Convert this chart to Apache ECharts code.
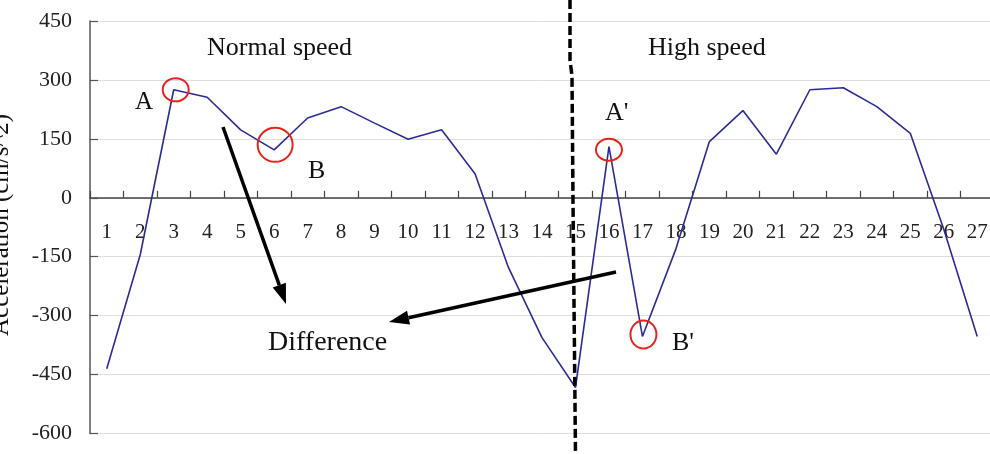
<!DOCTYPE html>
<html>
<head>
<meta charset="utf-8">
<script src="https://cdn.jsdelivr.net/npm/echarts@6/dist/echarts.min.js"></script>
<style>
  html, body { margin: 0; padding: 0; background: #fff; }
  #chart { width: 990px; height: 454px; }
</style>
</head>
<body>
<div id="chart"></div>
<script>
  // sample number 1..27
  var categories = ['1', '2', '3', '4', '5', '6', '7', '8', '9', '10', '11', '12', '13', '14',
    '15', '16', '17', '18', '19', '20', '21', '22', '23', '24', '25', '26', '27']
  // acceleration (cm/s^2)
  var accel = [-435, -145, 275, 256, 173, 122, 203, 232, 190, 149, 173, 61, -178, -356,
    -483, 130, -353, -130, 143, 222, 111, 275, 280, 232, 164, -80, -353]
  var yTicks = [-600, -450, -300, -150, 0, 150, 300, 450]

  // red marks around A, B, A', B' (index into accel)
  var marked = [
    { idx: 2, dx: 2, dy: 0, rx: 13, ry: 11.5 },
    { idx: 5, dx: 1, dy: -5, rx: 17.5, ry: 17 },
    { idx: 15, dx: 0, dy: 3, rx: 13, ry: 11 },
    { idx: 16, dx: 1, dy: -2, rx: 13, ry: 14 }
  ]

  var serif = '"Liberation Serif", "Times New Roman", serif'

  var gridTop = 21, gridBottom = 20.5
  var yMin = yTicks[0], yMax = yTicks[yTicks.length - 1]
  // lift the x axis (line, ticks, labels) up to the zero line
  var plotH = 454 - gridTop - gridBottom
  var zeroOffset = -plotH * (0 - yMin) / (yMax - yMin)

  var dom = document.getElementById('chart')
  var chart = echarts.init(dom)

  var option = {
    animation: false,
    grid: {
      left: 90,
      right: -4,
      top: gridTop,
      bottom: gridBottom,
      outerBoundsMode: 'none'
    },
    xAxis: {
      type: 'category',
      data: categories,
      boundaryGap: true,
      position: 'bottom',
      offset: zeroOffset,
      axisLine: { show: true, onZero: false, lineStyle: { color: '#444', width: 1.5 } },
      axisTick: { show: true, inside: true, length: 7, interval: 0, lineStyle: { color: '#444', width: 1.2 } },
      axisLabel: { show: true, interval: 0, margin: 24, fontFamily: serif, fontSize: 21, color: '#222' },
      splitLine: { show: false }
    },
    yAxis: {
      type: 'value',
      min: yMin,
      max: yMax,
      interval: 150,
      axisLine: { show: true, lineStyle: { color: '#555', width: 1.5 } },
      axisTick: { show: true, inside: true, length: 8, lineStyle: { color: '#555', width: 1.2 } },
      axisLabel: { margin: 18, fontFamily: serif, fontSize: 22, color: '#222' },
      splitLine: { lineStyle: { color: '#dedede', width: 1 } }
    },
    series: [{
      type: 'line',
      data: accel,
      symbol: 'none',
      lineStyle: { color: '#2b2b96', width: 1.6 },
      z: 3
    }]
  }
  chart.setOption(option)

  function arrow(x1, y1, x2, y2) {
    var ang = Math.atan2(y2 - y1, x2 - x1)
    var hl = 20, hw = 7
    var bx = x2 - hl * Math.cos(ang), by = y2 - hl * Math.sin(ang)
    var px = -Math.sin(ang) * hw, py = Math.cos(ang) * hw
    return [{
      type: 'line',
      shape: { x1: x1, y1: y1, x2: bx, y2: by },
      style: { stroke: '#000', lineWidth: 3.5 },
      z: 20
    }, {
      type: 'polygon',
      shape: { points: [[x2, y2], [bx + px, by + py], [bx - px, by - py]] },
      style: { fill: '#000' },
      z: 20
    }]
  }

  function label(text, x, y, size, rot) {
    return {
      type: 'text',
      x: x,
      y: y,
      rotation: rot || 0,
      style: {
        text: text,
        font: size + 'px ' + serif,
        fill: '#111',
        textAlign: rot ? 'center' : 'left',
        textVerticalAlign: 'middle'
      },
      z: 20
    }
  }

  var g = []
  marked.forEach(function (m) {
    var p = chart.convertToPixel({ seriesIndex: 0 }, [m.idx, accel[m.idx]])
    g.push({
      type: 'ellipse',
      shape: { cx: p[0] + m.dx, cy: p[1] + m.dy, rx: m.rx, ry: m.ry },
      style: { fill: 'none', stroke: '#e8231e', lineWidth: 2 },
      z: 20
    })
  })
  // boundary between the two speed runs
  g.push({
    type: 'polyline',
    shape: { points: [[570, 0], [570, 60], [572, 76], [573, 200], [575.5, 454]] },
    style: { stroke: '#000', lineWidth: 3.5, lineDash: [9, 4], fill: null },
    z: 19
  })
  g = g.concat(arrow(223, 127, 286, 304))
  g = g.concat(arrow(616, 272, 389, 322))
  g.push(label('Normal speed', 207, 48, 26))
  g.push(label('High speed', 648, 48, 26))
  g.push(label('A', 135, 102.5, 25))
  g.push(label('B', 308, 171, 26))
  g.push(label("A'", 605, 113, 26))
  g.push(label("B'", 672, 343, 26))
  g.push(label('Difference', 268, 342.5, 28))
  // y axis title, cut by the left edge as in the source
  g.push(label('Acceleration (cm/s^2)', 1, 225, 25, Math.PI / 2))

  chart.setOption({ graphic: g })
</script>
</body>
</html>
